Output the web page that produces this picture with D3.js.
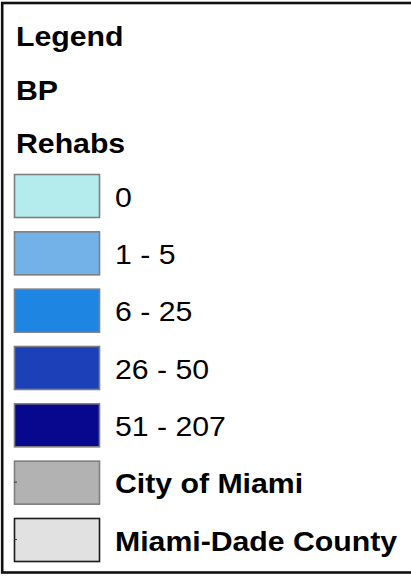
<!DOCTYPE html>
<html>
<head>
<meta charset="utf-8">
<script src="https://cdn.jsdelivr.net/npm/d3@7"></script>
<style>
  body { margin: 0; background: #fff; }
  text { font-family: "Liberation Sans", Arial, sans-serif; }
</style>
</head>
<body>
<svg id="drawing_region"></svg>
<script>
// legend content
const headers = ['Legend', 'BP', 'Rehabs'];
const class_labels = ['0', '1 - 5', '6 - 25', '26 - 50', '51 - 207', 'City of Miami', 'Miami-Dade County'];
const class_colors = ['#b4ecee', '#73b2e8', '#1e86e2', '#1c40b8', '#08088e', '#b2b2b2', '#e1e1e1'];
const class_strokes = ['#7f7f7f', '#7f7f7f', '#7f7f7f', '#7f7f7f', '#7f7f7f', '#7f7f7f', '#1a1a1a'];
const class_bold = [false, false, false, false, false, true, true];

const config = {
    parent: '#drawing_region',
    width: 411,
    height: 577,
    stretch: 1.08   // the source legend is a little wider than tall
};

const svg = d3.select(config.parent)
    .attr('width', config.width)
    .attr('height', config.height);

// frame (right edge runs off the picture)
svg.append('rect')
    .attr('x', 2.2)
    .attr('y', 3)
    .attr('width', 420)
    .attr('height', 569.5)
    .attr('fill', 'none')
    .attr('stroke', '#111')
    .attr('stroke-width', 2.6);

const header_y = d3.scalePoint()
    .domain(headers)
    .range([46, 153]);

svg.selectAll('.header')
    .data(headers)
    .enter()
    .append('text')
    .attr('class', 'header')
    .attr('transform', d => `translate(16,${header_y(d)}) scale(${config.stretch},1)`)
    .style('font-size', '28px')
    .style('font-weight', 'bold')
    .text(d => d);

const row_y = d3.scalePoint()
    .domain(class_labels)
    .range([174, 518]);

const sw_w = 85, sw_h = 43;

const rows = svg.selectAll('.row')
    .data(class_labels)
    .enter()
    .append('g')
    .attr('class', 'row')
    .attr('transform', d => `translate(14,${row_y(d)})`);

rows.append('rect')
    .attr('x', 0.5)
    .attr('y', 0.5)
    .attr('width', sw_w)
    .attr('height', sw_h)
    .attr('fill', (d, i) => class_colors[i])
    .attr('stroke', (d, i) => class_strokes[i])
    .attr('stroke-width', 1.6);

// little tick on the left of the boundary swatches
rows.filter((d, i) => i >= 5)
    .append('line')
    .attr('x1', 0)
    .attr('x2', 3)
    .attr('y1', sw_h / 2)
    .attr('y2', sw_h / 2)
    .attr('stroke', '#333')
    .attr('stroke-width', 1);

rows.append('text')
    .attr('transform', `translate(101,${sw_h / 2 + 11}) scale(${config.stretch},1)`)
    .style('font-size', '28px')
    .style('font-weight', (d, i) => class_bold[i] ? 'bold' : 'normal')
    .text(d => d);
</script>
</body>
</html>
